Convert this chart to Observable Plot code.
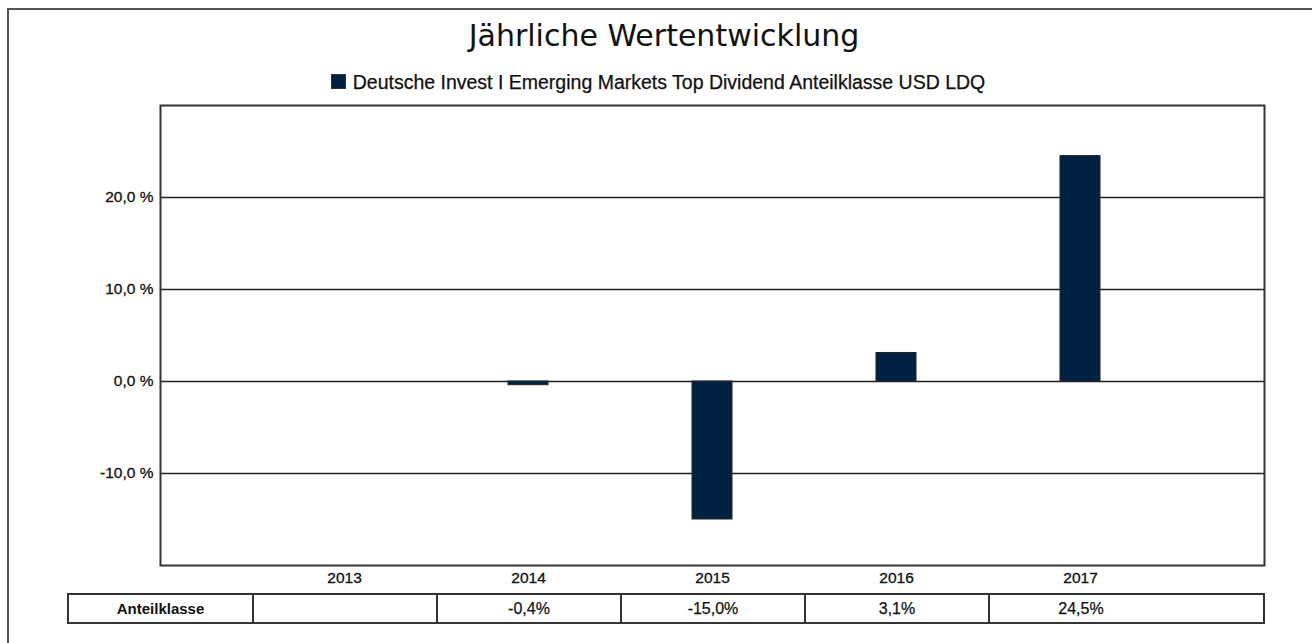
<!DOCTYPE html>
<html>
<head>
<meta charset="utf-8">
<script src="https://cdn.jsdelivr.net/npm/d3@7"></script>
<script src="https://cdn.jsdelivr.net/npm/@observablehq/plot@0.6"></script>
<style>
  html, body { margin: 0; padding: 0; background: #fff; }
  #wrap { position: relative; width: 1312px; height: 643px; overflow: hidden; font-family: "Liberation Sans", Arial, sans-serif; }
  #border { position: absolute; left: 7px; top: 8px; width: 1400px; height: 800px; border-top: 2px solid #555; border-left: 2px solid #555; }
  #title { position: absolute; left: 0; width: 1328px; top: 18px; text-align: center; font-family: "DejaVu Sans", sans-serif; font-size: 30px; color: #111; }
  #legend { position: absolute; left: 0; width: 1316px; top: 71px; text-align: center; font-size: 19.5px; color: #111; -webkit-text-stroke: 0.25px #111; }
  #legend .sw { display: inline-block; width: 13px; height: 13px; background: #002142; border: 1px solid #333; vertical-align: 0px; margin-right: 7px; }
  #chart { position: absolute; left: 0; top: 95px; }
  #chart svg text { stroke: #111; stroke-width: 0.3px; }
  #table { position: absolute; top: 593px; border-collapse: collapse; font-size: 16px; color: #111; -webkit-text-stroke: 0.25px #111; }
  #table td { border: 2px solid #333; height: 29px; padding: 0; text-align: left; box-sizing: border-box; }
  #table td span { display: inline-block; text-align: center; }
  #table td.lab { font-weight: bold; font-size: 15px; -webkit-text-stroke: 0; text-align: center; }
</style>
</head>
<body>
<div id="wrap">
  <div id="border"></div>
  <div id="title">Jährliche Wertentwicklung</div>
  <div id="legend"><span class="sw"></span><span id="seriesName"></span></div>
  <div id="chart"></div>
  <table id="table"><tr id="row"></tr></table>
</div>
<script>
const years = [2013, 2014, 2015, 2016, 2017];
const values = [null, -0.4, -15.0, 3.1, 24.5];
const seriesName = "Deutsche Invest I Emerging Markets Top Dividend Anteilklasse USD LDQ";
const rowLabel = "Anteilklasse";
const yTicks = [-10, 0, 10, 20];

document.getElementById("seriesName").textContent = seriesName;

const data = years.map((y, i) => ({year: String(y), value: values[i]})).filter(d => d.value != null);

const chart = Plot.plot({
  width: 1312,
  height: 505,
  marginTop: 10,
  marginBottom: 35,
  marginLeft: 160,
  marginRight: 48,
  style: {fontFamily: "Liberation Sans, Arial, sans-serif", fontSize: "15.5px", color: "#111"},
  x: {domain: years.map(String), paddingInner: 0.783, paddingOuter: 0.8915, label: null, tickSize: 0, tickPadding: 6},
  y: {domain: [-20, 30], ticks: yTicks, label: null, tickSize: 0, tickPadding: 7,
      tickFormat: d => d.toFixed(1).replace(".", ",") + " %"},
  marks: [
    Plot.ruleY(yTicks, {stroke: "#222", strokeWidth: 1.6}),
    Plot.barY(data, {x: "year", y: "value", fill: "#002142", stroke: "#222", strokeWidth: 1}),
    Plot.frame({stroke: "#333", strokeWidth: 2})
  ]
});
document.getElementById("chart").appendChild(chart);

// Table aligned to the x scale
const xs = chart.scale("x");
const step = xs.step;
const centers = years.map(y => xs.apply(String(y)) + xs.bandwidth / 2);
const left0 = centers[0] - step / 2;
const rightEnd = xs.range[1] - 1;
const tbl = document.getElementById("table");
const labelLeft = 67;
tbl.style.left = labelLeft + "px";
const row = document.getElementById("row");
const lab = document.createElement("td");
lab.className = "lab";
lab.textContent = rowLabel;
lab.style.width = (left0 - labelLeft) + "px";
row.appendChild(lab);
years.forEach((y, i) => {
  const td = document.createElement("td");
  const l = centers[i] - step / 2;
  const r = i === years.length - 1 ? rightEnd : centers[i] + step / 2;
  td.style.width = (r - l) + "px";
  td.style.minWidth = (r - l) + "px";
  const sp = document.createElement("span");
  sp.style.width = (step - 2) + "px";
  sp.textContent = values[i] == null ? "" : values[i].toFixed(1).replace(".", ",") + "%";
  td.appendChild(sp);
  row.appendChild(td);
});
tbl.style.tableLayout = "fixed";
tbl.style.width = (rightEnd - labelLeft) + "px";
</script>
</body>
</html>
